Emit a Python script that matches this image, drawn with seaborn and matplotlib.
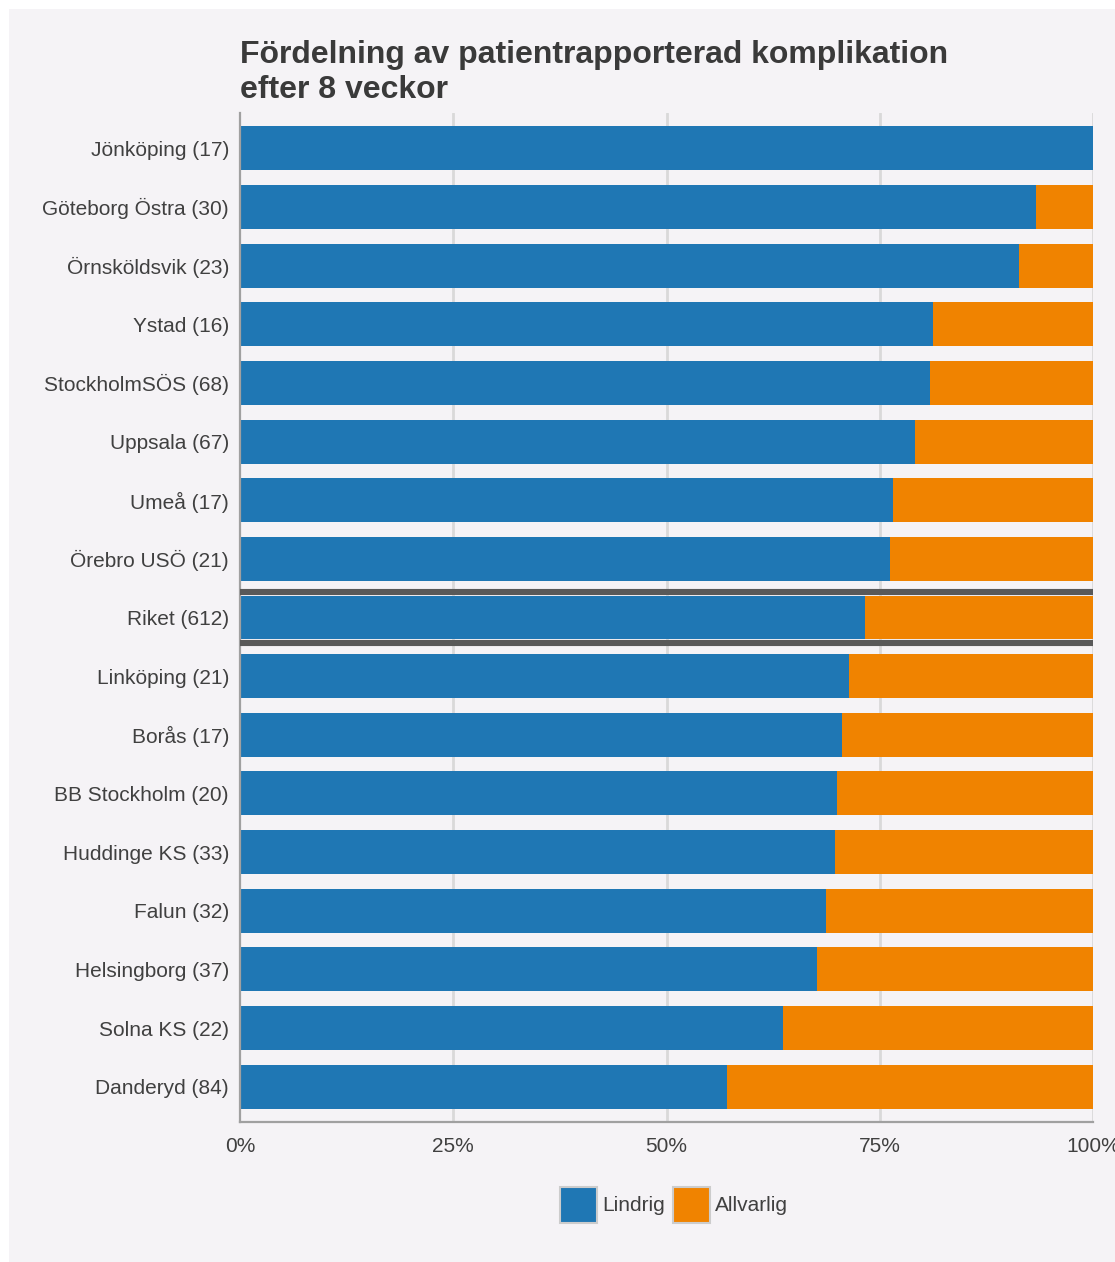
import matplotlib
matplotlib.use("Agg")
import matplotlib.pyplot as plt
from matplotlib.patches import Patch, Rectangle
import seaborn as sns
import pandas as pd

# ---- data ----
categories = [
    "Jönköping (17)", "Göteborg Östra (30)", "Örnsköldsvik (23)", "Ystad (16)",
    "StockholmSÖS (68)", "Uppsala (67)", "Umeå (17)", "Örebro USÖ (21)",
    "Riket (612)", "Linköping (21)", "Borås (17)", "BB Stockholm (20)",
    "Huddinge KS (33)", "Falun (32)", "Helsingborg (37)", "Solna KS (22)",
    "Danderyd (84)",
]
lindrig = [100.0, 93.3, 91.3, 81.25, 80.9, 79.1, 76.5, 76.2,
           73.3, 71.4, 70.6, 70.0, 69.7, 68.75, 67.6, 63.6, 57.1]
allvarlig = [100 - v for v in lindrig]
series_names = ["Lindrig", "Allvarlig"]
highlight = "Riket (612)"
xticks = [0, 25, 50, 75, 100]
xticklabels = ["0%", "25%", "50%", "75%", "100%"]
title = "Fördelning av patientrapporterad komplikation\nefter 8 veckor"

df = pd.DataFrame({"kategori": categories, "Lindrig": lindrig,
                   "Allvarlig": allvarlig})
df["total"] = df["Lindrig"] + df["Allvarlig"]

BLUE = "#1f77b4"
ORANGE = "#f08300"
BG = "#f5f3f6"
TXT = "#404040"

sns.set_theme(style="white")
plt.rcParams["font.family"] = ["Liberation Sans", "DejaVu Sans"]

W, H = 1115, 1262
fig = plt.figure(figsize=(W / 100, H / 100), dpi=100, facecolor="white")
fig.patches.append(Rectangle((9 / W, 0), 1 - 9 / W, 1 - 9 / H,
                             transform=fig.transFigure, facecolor=BG,
                             edgecolor="none", zorder=-10))

ax = fig.add_axes([240 / W, 1 - 1122 / H, (1093 - 240) / W, (1122 - 113) / H])
ax.set_facecolor(BG)
ax.set_axisbelow(True)

sns.barplot(data=df, y="kategori", x="total", orient="h", color=ORANGE,
            saturation=1, width=0.75, ax=ax, order=categories)
sns.barplot(data=df, y="kategori", x="Lindrig", orient="h", color=BLUE,
            saturation=1, width=0.75, ax=ax, order=categories)
for p in ax.patches:
    p.set_linewidth(0)

ax.set_xlim(0, 100)
ax.set_ylim(len(categories) - 0.4, -0.6)
ax.set_xticks(xticks)
ax.set_xticklabels(xticklabels)
ax.set_xlabel("")
ax.set_ylabel("")
ax.tick_params(axis="both", length=0, labelsize=15, colors=TXT)
ax.tick_params(axis="y", pad=8)
ax.tick_params(axis="x", pad=11)

for x in xticks[1:]:
    ax.axvline(x, color="#d9d9d9", lw=2.0, zorder=0)

for s in ["top", "right"]:
    ax.spines[s].set_visible(False)
for s in ["left", "bottom"]:
    ax.spines[s].set_color("#a0a0a0")
    ax.spines[s].set_linewidth(1.6)

hi = categories.index(highlight)
for off in (-0.43, 0.43):
    ax.axhline(hi + off, color="#595959", lw=4.4, zorder=5)

fig.text(240 / W, 1 - 40 / H, title, fontsize=23, fontweight="bold",
         color="#3a3a3a", ha="left", va="top", linespacing=1.2)

handles = [Patch(facecolor=BLUE, edgecolor="#cccccc", linewidth=1.5),
           Patch(facecolor=ORANGE, edgecolor="#cccccc", linewidth=1.5)]
leg = fig.legend(handles, series_names, loc="center",
                 bbox_to_anchor=(674 / W, 1 - 1205 / H), ncol=2, frameon=False,
                 fontsize=15, handlelength=1.8, handleheight=2.3,
                 handletextpad=0.25, columnspacing=0.35, borderpad=0)
for t in leg.get_texts():
    t.set_color(TXT)

fig.savefig("out.png", dpi=100, facecolor="white")
